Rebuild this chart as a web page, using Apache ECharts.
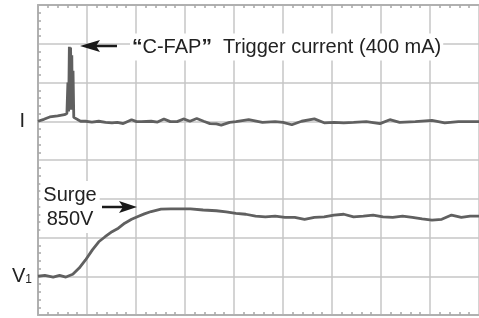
<!DOCTYPE html>
<html>
<head>
<meta charset="utf-8">
<script src="https://cdn.jsdelivr.net/npm/echarts@6/dist/echarts.min.js"></script>
<style>
  html, body { margin: 0; padding: 0; background: #fff; }
  #chart { width: 479px; height: 318px; }
</style>
</head>
<body>
<div id="chart"></div>
<script>
// time in screen divisions, level in vertical divisions (0 = bottom line)
const currentTime = [0, 0.12, 0.24, 0.4, 0.54, 0.59, 0.61, 0.625, 0.64, 0.655, 0.665, 0.68, 0.69, 0.7, 0.715, 0.73,
  0.77, 0.87, 0.97, 1.1, 1.24, 1.38, 1.51, 1.62, 1.74, 1.91, 2.01, 2.11, 2.31, 2.44, 2.57, 2.7, 2.84, 2.97,
  3.1, 3.24, 3.38, 3.51, 3.64, 3.74, 3.91, 4.04, 4.3, 4.58, 4.84, 5.0, 5.18, 5.38, 5.64, 5.84, 6.04, 6.24,
  6.44, 6.7, 6.98, 7.18, 7.38, 7.7, 8.04, 8.3, 8.58, 8.82, 9.0];
const currentLevel = [5.0, 5.05, 5.11, 5.14, 5.17, 5.2, 6.0, 5.25, 6.92, 5.3, 6.9, 5.35, 6.7, 5.3, 6.3, 5.1,
  5.06, 5.0, 5.0, 4.98, 5.0, 4.97, 4.96, 4.97, 4.94, 5.04, 4.99, 4.99, 5.0, 4.98, 5.06, 4.99, 4.99, 5.06,
  5.0, 5.07, 5.0, 4.94, 4.93, 4.9, 4.97, 4.99, 5.04, 4.97, 4.99, 4.97, 4.91, 5.0, 5.06, 4.96, 4.97, 4.96,
  4.97, 4.99, 4.94, 5.04, 4.97, 4.99, 5.02, 4.96, 4.99, 4.99, 4.99];

const voltageTime = [0, 0.14, 0.31, 0.44, 0.57, 0.71, 0.84, 0.97, 1.11, 1.24, 1.37, 1.51, 1.64, 1.77, 1.91,
  2.04, 2.17, 2.31, 2.51, 2.71, 2.91, 3.11, 3.37, 3.64, 3.84, 4.04, 4.24, 4.44, 4.64, 4.84, 5.04, 5.24,
  5.44, 5.64, 5.84, 6.04, 6.24, 6.44, 6.64, 6.84, 7.04, 7.24, 7.44, 7.64, 7.84, 8.04, 8.24, 8.44, 8.64,
  8.82, 9.0];
const voltageLevel = [1.0, 1.02, 0.98, 1.02, 0.98, 1.05, 1.21, 1.42, 1.68, 1.89, 2.02, 2.15, 2.24, 2.37, 2.47,
  2.54, 2.61, 2.67, 2.73, 2.74, 2.74, 2.74, 2.71, 2.69, 2.66, 2.62, 2.6, 2.55, 2.53, 2.55, 2.52, 2.52,
  2.47, 2.52, 2.53, 2.58, 2.6, 2.53, 2.55, 2.58, 2.53, 2.52, 2.55, 2.52, 2.48, 2.45, 2.47, 2.58, 2.52,
  2.55, 2.55];

const traceLabels = { 5: "{i|I}", 1: "{v|V}{s|1}" };

const font = "Liberation Sans, Arial, sans-serif";
const gridColor = "#c6c6c6";
const borderColor = "#b0b0b0";
const traceColor = "#606060";

const chart = echarts.init(document.getElementById("chart"), null, { renderer: "canvas" });

function pairs(xs, ys) {
  return xs.map((x, i) => [x, ys[i]]);
}

function timeAxis(position, withGrid) {
  return {
    type: "value",
    position: position,
    min: 0,
    max: 9,
    interval: 1,
    axisLine: { show: true, lineStyle: { color: borderColor, width: 2 } },
    axisTick: { show: false, inside: true },
    minorTick: { show: true, splitNumber: 5, length: 3, lineStyle: { color: "#a8a8a8", width: 1.5 } },
    axisLabel: { show: false },
    splitLine: { show: withGrid, lineStyle: { color: gridColor, width: 1.5 } }
  };
}

chart.setOption({
  animation: false,
  backgroundColor: "#fff",
  grid: { left: 38, top: 5, right: -9, bottom: 3, containLabel: false },
  xAxis: [timeAxis("bottom", true), timeAxis("top", false)],
  yAxis: {
    type: "value",
    min: 0,
    max: 8,
    interval: 1,
    axisLine: { show: true, lineStyle: { color: borderColor, width: 2 } },
    axisTick: { show: false, inside: true },
    minorTick: { show: true, splitNumber: 5, length: 3, lineStyle: { color: "#a8a8a8", width: 1.5 } },
    splitLine: { show: true, lineStyle: { color: gridColor, width: 1.5 } },
    axisLabel: {
      show: true,
      margin: 6,
      formatter: v => traceLabels[v] || "",
      rich: {
        i: { fontFamily: font, fontSize: 20, color: "#222", padding: [0, 7, 0, 0] },
        v: { fontFamily: font, fontSize: 20, color: "#222", verticalAlign: "bottom" },
        s: { fontFamily: font, fontSize: 12, color: "#222", verticalAlign: "bottom", padding: [0, 0, 1, 0] }
      }
    }
  },
  series: [
    {
      name: "I",
      type: "line",
      xAxisIndex: 0,
      data: pairs(currentTime, currentLevel),
      showSymbol: false,
      lineStyle: { color: traceColor, width: 2.8 },
      z: 3
    },
    {
      name: "V1",
      type: "line",
      xAxisIndex: 0,
      data: pairs(voltageTime, voltageLevel),
      showSymbol: false,
      lineStyle: { color: traceColor, width: 2.8 },
      z: 3
    }
  ],
  graphic: [
    {
      type: "text",
      z: 1,
      x: 130,
      y: 47,
      style: {
        text: "{q|\u201C}C-FAP{q|\u201D}  Trigger current (400 mA)",
        fontFamily: font,
        fontSize: 20,
        fill: "#222",
        verticalAlign: "middle",
        backgroundColor: "#fff",
        padding: [3, 2],
        rich: { q: { fontFamily: font, fontSize: 21, fontWeight: "bold", fill: "#222" } }
      }
    },
    {
      type: "text",
      z: 1,
      x: 70,
      y: 207,
      style: {
        text: "Surge\n850V",
        fontFamily: font,
        fontSize: 20,
        lineHeight: 24,
        fill: "#222",
        align: "center",
        verticalAlign: "middle",
        backgroundColor: "#fff",
        padding: [2, 3]
      }
    },
    { type: "line", z: 4, shape: { x1: 96, y1: 46, x2: 117, y2: 46 }, style: { stroke: "#1a1a1a", lineWidth: 2.5 } },
    { type: "polygon", z: 4, shape: { points: [[80, 46], [100, 40], [96, 46], [100, 52]] }, style: { fill: "#1a1a1a" } },
    { type: "line", z: 4, shape: { x1: 102, y1: 207, x2: 124, y2: 207 }, style: { stroke: "#1a1a1a", lineWidth: 2.5 } },
    { type: "polygon", z: 4, shape: { points: [[137, 207], [119, 201], [123, 207], [119, 213]] }, style: { fill: "#1a1a1a" } }
  ]
});
</script>
</body>
</html>
